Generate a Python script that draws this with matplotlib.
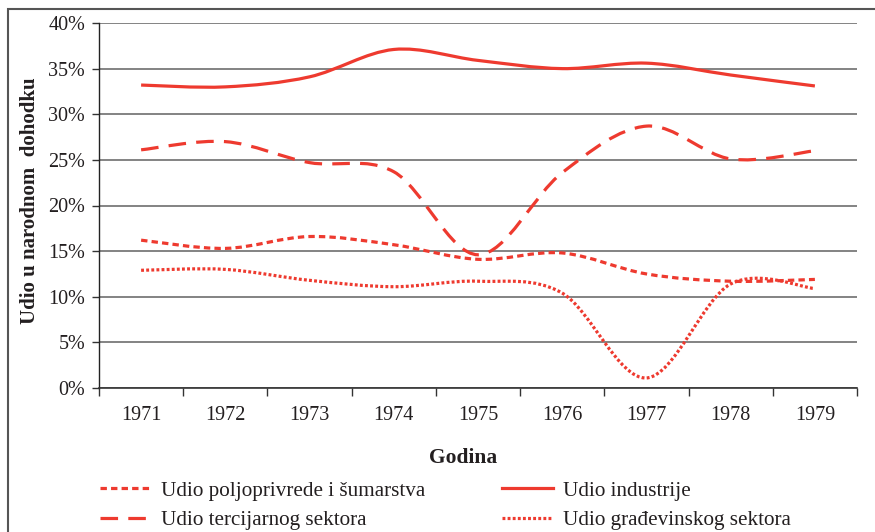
import numpy as np
import matplotlib
matplotlib.use("Agg")
import matplotlib.pyplot as plt
from matplotlib.path import Path
from matplotlib.patches import PathPatch, Rectangle
from matplotlib.lines import Line2D

# values (percent of national income)
years = ["1971", "1972", "1973", "1974", "1975", "1976", "1977", "1978", "1979"]
poljoprivreda = [16.2, 15.3, 16.6, 15.7, 14.1, 14.8, 12.5, 11.7, 11.9]
tercijarni = [26.1, 27.0, 24.7, 23.7, 14.6, 23.6, 28.7, 25.1, 26.0]
industrija = [33.2, 33.0, 34.1, 37.1, 35.9, 35.0, 35.6, 34.3, 33.1]
gradevinski = [12.9, 13.0, 11.8, 11.1, 11.7, 10.4, 1.1, 11.4, 10.9]

labels = ["Udio poljoprivrede i šumarstva", "Udio tercijarnog sektora",
          "Udio industrije", "Udio građevinskog sektora"]

RED = "#EE3A2F"
LW = 2.3
STYLES = [(0, (2.0, 1.3)), (0, (5.5, 3.2)), "-", (0, (0.9, 0.7))]
TXT = "#231f20"

plt.rcParams["font.family"] = ["Liberation Serif", "DejaVu Serif"]


# smoothed line like the spreadsheet "smoothed line" option (cubic bezier segments)
def smooth_path(xs, ys):
    pts = np.column_stack([xs, ys]).astype(float)
    n = len(pts)
    verts = [pts[0]]
    codes = [Path.MOVETO]
    for i in range(n - 1):
        p0 = pts[max(i - 1, 0)]
        p1 = pts[i]
        p2 = pts[i + 1]
        p3 = pts[min(i + 2, n - 1)]
        c1 = p1 + (p2 - p0) / 6.0
        c2 = p2 - (p3 - p1) / 6.0
        verts += [c1, c2, p2]
        codes += [Path.CURVE4] * 3
    return Path(verts, codes)


fig = plt.figure(figsize=(8.75, 5.32), dpi=100)
ax = fig.add_axes([99 / 875, 1 - 388 / 532, (857 - 99) / 875, (388 - 23) / 532])

x = np.arange(1, len(years) + 1)
for vals, ls in zip([poljoprivreda, tercijarni, industrija, gradevinski], STYLES):
    patch = PathPatch(smooth_path(x, vals), fill=False, edgecolor=RED,
                      linewidth=LW, linestyle=ls, capstyle="butt", zorder=3)
    ax.add_patch(patch)

ax.set_xlim(0.5, len(years) + 0.5)
ax.set_ylim(0, 40)
ax.set_yticks(np.arange(0, 41, 5))
ax.set_yticklabels([f"{v}%" for v in range(0, 41, 5)])
ax.yaxis.grid(True, color="#7a7a7a", linewidth=1.3)
ax.set_axisbelow(True)

ax.set_xticks(np.arange(0.5, len(years) + 1, 1.0))
ax.set_xticklabels([])
ax.set_xticks(x, minor=True)
ax.set_xticklabels(years, minor=True)
ax.tick_params(axis="x", which="major", length=6, width=1, color="#333333")
ax.tick_params(axis="x", which="minor", length=0, pad=13, labelsize=14.5, labelcolor=TXT)
ax.tick_params(axis="y", length=5, width=1, color="#333333", pad=5, labelsize=14.5, labelcolor=TXT)

for s in ["top", "right"]:
    ax.spines[s].set_visible(False)
ax.spines["left"].set_color("#222222")
ax.spines["bottom"].set_color("#333333")
ax.spines["left"].set_linewidth(1)
ax.spines["bottom"].set_linewidth(1.2)

fig.text(30 / 875, 1 - 201 / 532, "Udio u narodnom  dohodku", rotation=90, ha="center",
         va="center", fontsize=15, fontweight="bold", color=TXT)
fig.text(463 / 875, 1 - 458 / 532, "Godina", ha="center", va="center",
         fontsize=15.5, fontweight="bold", color=TXT)

handles = [Line2D([], [], color=RED, linewidth=LW, linestyle=ls, dash_capstyle="butt")
           for ls in STYLES]
leg_kw = dict(frameon=False, fontsize=15.2, handlelength=2.4, handletextpad=0.47,
              borderpad=0, borderaxespad=0, labelspacing=0.45, labelcolor=TXT)
fig.legend(handles[:2], labels[:2], loc="upper left",
           bbox_to_anchor=(100 / 875, 1 - 481 / 532), **leg_kw)
fig.legend(handles[2:], labels[2:], loc="upper left",
           bbox_to_anchor=(502 / 875, 1 - 481 / 532), **leg_kw)

# outer frame of the printed figure
fig.add_artist(Rectangle((8 / 875, -0.2), 1.2, 1.2 - 9 / 532,
                         transform=fig.transFigure, fill=False, edgecolor="#555555",
                         linewidth=1.5))

fig.savefig("out.png", dpi=100)
